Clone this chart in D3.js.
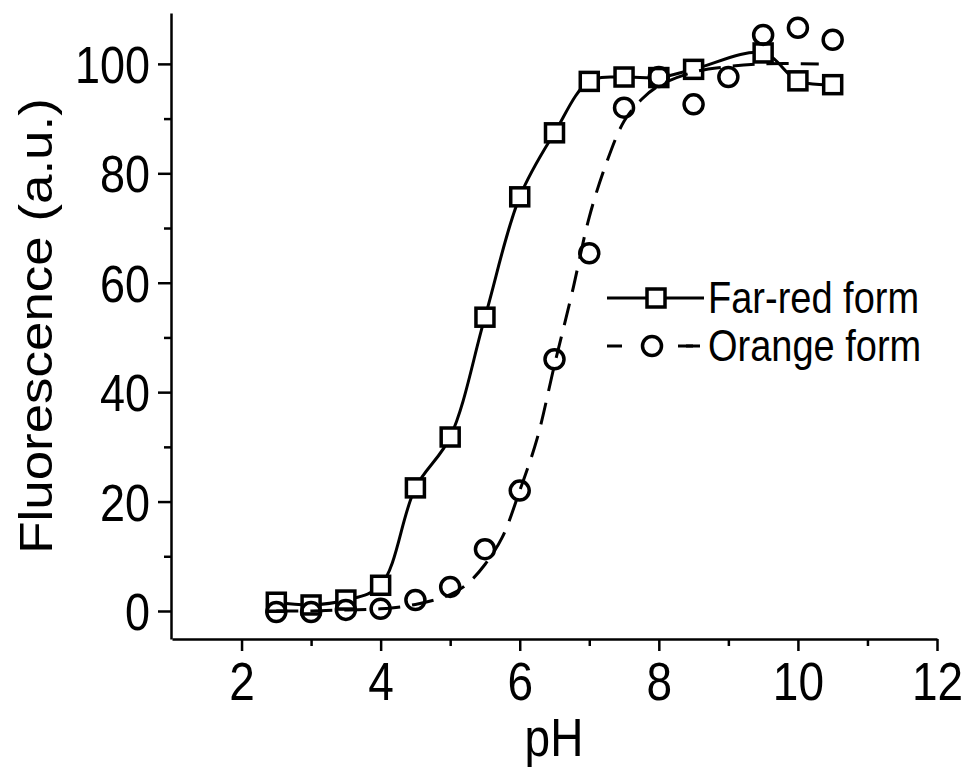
<!DOCTYPE html>
<html lang="en">
<head>
  <meta charset="UTF-8">
  <title>Fluorescence vs pH</title>
  <script src="https://d3js.org/d3.v7.min.js"></script>
  <style>
    body { margin: 0; background: #fff; }
    text { font-family: 'Liberation Sans', Arial, sans-serif; fill: #000; }
    .axis path, .axis line { stroke: #000; stroke-width: 2.5px; }
  </style>
</head>
<body>
  <div id="chart"></div>
  <script>
    const farRedPH = [2.5, 3, 3.5, 4, 4.5, 5, 5.5, 6, 6.5, 7, 7.5, 8, 8.5, 9.5, 10, 10.5];
    const farRedVal = [1.6, 1.1, 2, 4.7, 22.5, 31.8, 53.7, 75.7, 87.4, 96.8, 97.6, 97.5, 99, 102, 96.9, 96.2];

    const orangePH = [2.5, 3, 3.5, 4, 4.5, 5, 5.5, 6, 6.5, 7, 7.5, 8, 8.5, 9, 9.5, 10, 10.5];
    const orangeVal = [-0.2, -0.2, 0.2, 0.4, 2, 4.4, 11.3, 22, 46, 65.4, 92, 97.6, 92.6, 97.6, 105.3, 106.6, 104.4];

    // dashed fit curve for the orange form
    const orangeFitPH = [2.5, 3, 3.5, 4, 4.5, 5, 5.25, 5.5, 5.75, 6, 6.25, 6.5, 6.75, 7, 7.25, 7.5, 7.75, 8, 8.5, 9, 9.5, 10.3];
    const orangeFitVal = [0, 0, 0.2, 0.4, 1.2, 3, 5, 8.5, 13.5, 22, 31.5, 45, 58, 72, 82, 89.5, 93.5, 96, 98.5, 99.5, 100, 100];

    const xTicks = [2, 4, 6, 8, 10, 12];
    const xMinor = [3, 5, 7, 9, 11];
    const yTicks = [0, 20, 40, 60, 80, 100];
    const yMinor = [10, 30, 50, 70, 90];

    const width = 969, height = 771;
    const stretch = 1.15; // glyphs in the figure are a bit tall

    const svg = d3.select('#chart').append('svg')
      .attr('width', width)
      .attr('height', height);

    const x = d3.scaleLinear().domain([1, 12]).range([172, 937]);
    const y = d3.scaleLinear().domain([-5.12, 109.3]).range([639, 13]);

    // x axis
    const gx = svg.append('g')
      .attr('class', 'axis')
      .attr('transform', 'translate(0,639)')
      .call(d3.axisBottom(x).tickValues(xTicks).tickSize(12).tickSizeOuter(0));
    gx.selectAll('text')
      .attr('y', 0).attr('dy', 0)
      .attr('transform', `translate(0,61) scale(1,${stretch})`)
      .style('font-size', '46px');
    svg.append('g')
      .attr('class', 'axis')
      .attr('transform', 'translate(0,639)')
      .call(d3.axisBottom(x).tickValues(xMinor).tickSize(7).tickFormat(''))
      .select('.domain').remove();

    // y axis
    const gy = svg.append('g')
      .attr('class', 'axis')
      .attr('transform', 'translate(171,0)')
      .call(d3.axisLeft(y).tickValues(yTicks).tickSize(13).tickSizeOuter(0));
    gy.selectAll('text')
      .attr('x', 0).attr('dy', 0).attr('y', '0.36em')
      .attr('transform', `translate(-21,0) scale(1,${stretch})`)
      .style('font-size', '45px');
    svg.append('g')
      .attr('class', 'axis')
      .attr('transform', 'translate(171,0)')
      .call(d3.axisLeft(y).tickValues(yMinor).tickSize(7).tickFormat(''))
      .select('.domain').remove();

    // axis titles
    svg.append('text')
      .attr('text-anchor', 'middle')
      .attr('transform', `translate(554,756) scale(1,${stretch})`)
      .style('font-size', '46px')
      .text('pH');
    svg.append('text')
      .attr('text-anchor', 'middle')
      .attr('transform', `translate(52,326) rotate(-90) scale(${stretch},1)`)
      .style('font-size', '46px')
      .text('Fluorescence (a.u.)');

    // far-red: spline through the points
    const farRed = farRedPH.map((p, i) => ({ p: p, v: farRedVal[i] }));
    const orange = orangePH.map((p, i) => ({ p: p, v: orangeVal[i] }));
    const orangeFit = orangeFitPH.map((p, i) => ({ p: p, v: orangeFitVal[i] }));

    const line = d3.line()
      .x(d => x(d.p))
      .y(d => y(d.v))
      .curve(d3.curveCatmullRom);

    svg.append('path')
      .datum(farRed)
      .attr('d', line)
      .attr('fill', 'none')
      .attr('stroke', '#000')
      .attr('stroke-width', 3);

    const sq = 18;
    svg.selectAll('.sq')
      .data(farRed)
      .enter().append('rect')
      .attr('class', 'sq')
      .attr('x', d => x(d.p) - sq / 2)
      .attr('y', d => y(d.v) - sq / 2)
      .attr('width', sq)
      .attr('height', sq)
      .attr('fill', '#fff')
      .attr('stroke', '#000')
      .attr('stroke-width', 3.5);

    svg.append('path')
      .datum(orangeFit)
      .attr('d', line)
      .attr('fill', 'none')
      .attr('stroke', '#000')
      .attr('stroke-width', 3)
      .attr('stroke-dasharray', '22,12');

    svg.selectAll('.ci')
      .data(orange)
      .enter().append('circle')
      .attr('class', 'ci')
      .attr('cx', d => x(d.p))
      .attr('cy', d => y(d.v))
      .attr('r', 9.5)
      .attr('fill', 'none')
      .attr('stroke', '#000')
      .attr('stroke-width', 3.5);

    // legend
    const legend = svg.append('g');
    legend.append('line')
      .attr('x1', 607).attr('x2', 704).attr('y1', 298).attr('y2', 298)
      .attr('stroke', '#000').attr('stroke-width', 3);
    legend.append('rect')
      .attr('x', 656 - sq / 2).attr('y', 298 - sq / 2)
      .attr('width', sq).attr('height', sq)
      .attr('fill', '#fff').attr('stroke', '#000').attr('stroke-width', 3.5);
    legend.append('line')
      .attr('x1', 607).attr('x2', 700).attr('y1', 346).attr('y2', 346)
      .attr('stroke', '#000').attr('stroke-width', 3)
      .attr('stroke-dasharray', '15,64');
    legend.append('line')
      .attr('x1', 678).attr('x2', 693).attr('y1', 346).attr('y2', 346)
      .attr('stroke', '#000').attr('stroke-width', 3);
    legend.append('circle')
      .attr('cx', 652).attr('cy', 346).attr('r', 9.5)
      .attr('fill', '#fff').attr('stroke', '#000').attr('stroke-width', 3.5);

    const legendLabels = ['Far-red form', 'Orange form'];
    legend.selectAll('.lt')
      .data(legendLabels)
      .enter().append('text')
      .attr('class', 'lt')
      .attr('transform', (d, i) => `translate(708,${298 + i * 48 + 15}) scale(1,${stretch})`)
      .style('font-size', '38px')
      .text(d => d);
  </script>
</body>
</html>
